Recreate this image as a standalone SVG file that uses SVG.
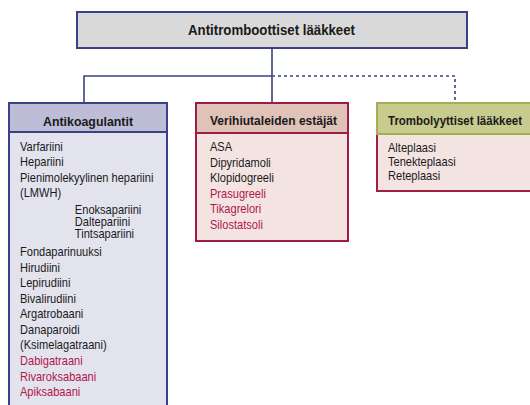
<svg xmlns="http://www.w3.org/2000/svg" width="530" height="405" viewBox="0 0 530 405">
<style>
text{font-family:"Liberation Sans Narrow","Liberation Sans",Arial,sans-serif;fill:#1a1a1a}
.h{font-weight:bold;font-size:13.5px}
.t{font-size:12.5px}
.r{fill:#b0174a}
.c{fill:none;stroke:#3b4187;stroke-width:1.6}
.d{stroke-dasharray:3,3}
</style>
<rect width="530" height="405" fill="#fff"/>
<g id="connectors">
<path class="c" d="M272 48V103M84 103V76H272"/>
<path class="c d" d="M272 76H455V103"/>
</g>
<g id="root">
<rect x="77" y="12" width="390" height="36" fill="#d9d9d9" stroke="#3b4187" stroke-width="2"/>
<text class="h" x="188" y="35" textLength="167" lengthAdjust="spacingAndGlyphs" style="font-size:15.5px">Antitromboottiset lääkkeet</text>
</g>
<g id="antikoagulantit">
<rect x="9" y="132" width="158" height="280" fill="#e3e3ee" stroke="#3b4187" stroke-width="2"/>
<rect x="9" y="103" width="158" height="29" fill="#bdbdd8" stroke="#3b4187" stroke-width="2"/>
<text class="h" x="43" y="126" textLength="90" lengthAdjust="spacingAndGlyphs">Antikoagulantit</text>
<g transform="translate(20 0) scale(0.885 1)">
<text class="t" x="0" y="151">Varfariini</text>
<text class="t" x="0" y="166.5">Hepariini</text>
<text class="t" x="0" y="182">Pienimolekyylinen hepariini</text>
<text class="t" x="0" y="197.5">(LMWH)</text>
<text class="t" x="62" y="214">Enoksapariini</text>
<text class="t" x="62" y="226">Daltepariini</text>
<text class="t" x="62" y="238">Tintsapariini</text>
<text class="t" x="0" y="256">Fondaparinuuksi</text>
<text class="t" x="0" y="272">Hirudiini</text>
<text class="t" x="0" y="287.5">Lepirudiini</text>
<text class="t" x="0" y="303">Bivalirudiini</text>
<text class="t" x="0" y="318.5">Argatrobaani</text>
<text class="t" x="0" y="334">Danaparoidi</text>
<text class="t" x="0" y="349.5">(Ksimelagatraani)</text>
<text class="t r" x="0" y="365.5">Dabigatraani</text>
<text class="t r" x="0" y="381">Rivaroksabaani</text>
<text class="t r" x="0" y="396.5">Apiksabaani</text>
</g>
</g>
<g id="verihiutaleiden">
<rect x="196" y="133" width="152" height="108" fill="#f3e4e2" stroke="#9e1c43" stroke-width="2"/>
<rect x="196" y="103" width="152" height="30" fill="#dfc2b8" stroke="#9e1c43" stroke-width="2"/>
<text class="h" x="210" y="125" textLength="127" lengthAdjust="spacingAndGlyphs">Verihiutaleiden estäjät</text>
<g transform="translate(210 0) scale(0.885 1)">
<text class="t" x="0" y="151">ASA</text>
<text class="t" x="0" y="167">Dipyridamoli</text>
<text class="t" x="0" y="182">Klopidogreeli</text>
<text class="t r" x="0" y="198">Prasugreeli</text>
<text class="t r" x="0" y="213.5">Tikagrelori</text>
<text class="t r" x="0" y="229">Silostatsoli</text>
</g>
</g>
<g id="trombolyyttiset">
<rect x="377" y="134" width="160" height="57" fill="#f3e4e2" stroke="#a0203f" stroke-width="2"/>
<rect x="377" y="103" width="160" height="31" fill="#c8cb8e" stroke="#a8ad55" stroke-width="2"/>
<text class="h" x="388" y="125" textLength="134" lengthAdjust="spacingAndGlyphs">Trombolyyttiset lääkkeet</text>
<g transform="translate(388 0) scale(0.885 1)">
<text class="t" x="0" y="152">Alteplaasi</text>
<text class="t" x="0" y="166">Tenekteplaasi</text>
<text class="t" x="0" y="180">Reteplaasi</text>
</g>
</g>
</svg>
